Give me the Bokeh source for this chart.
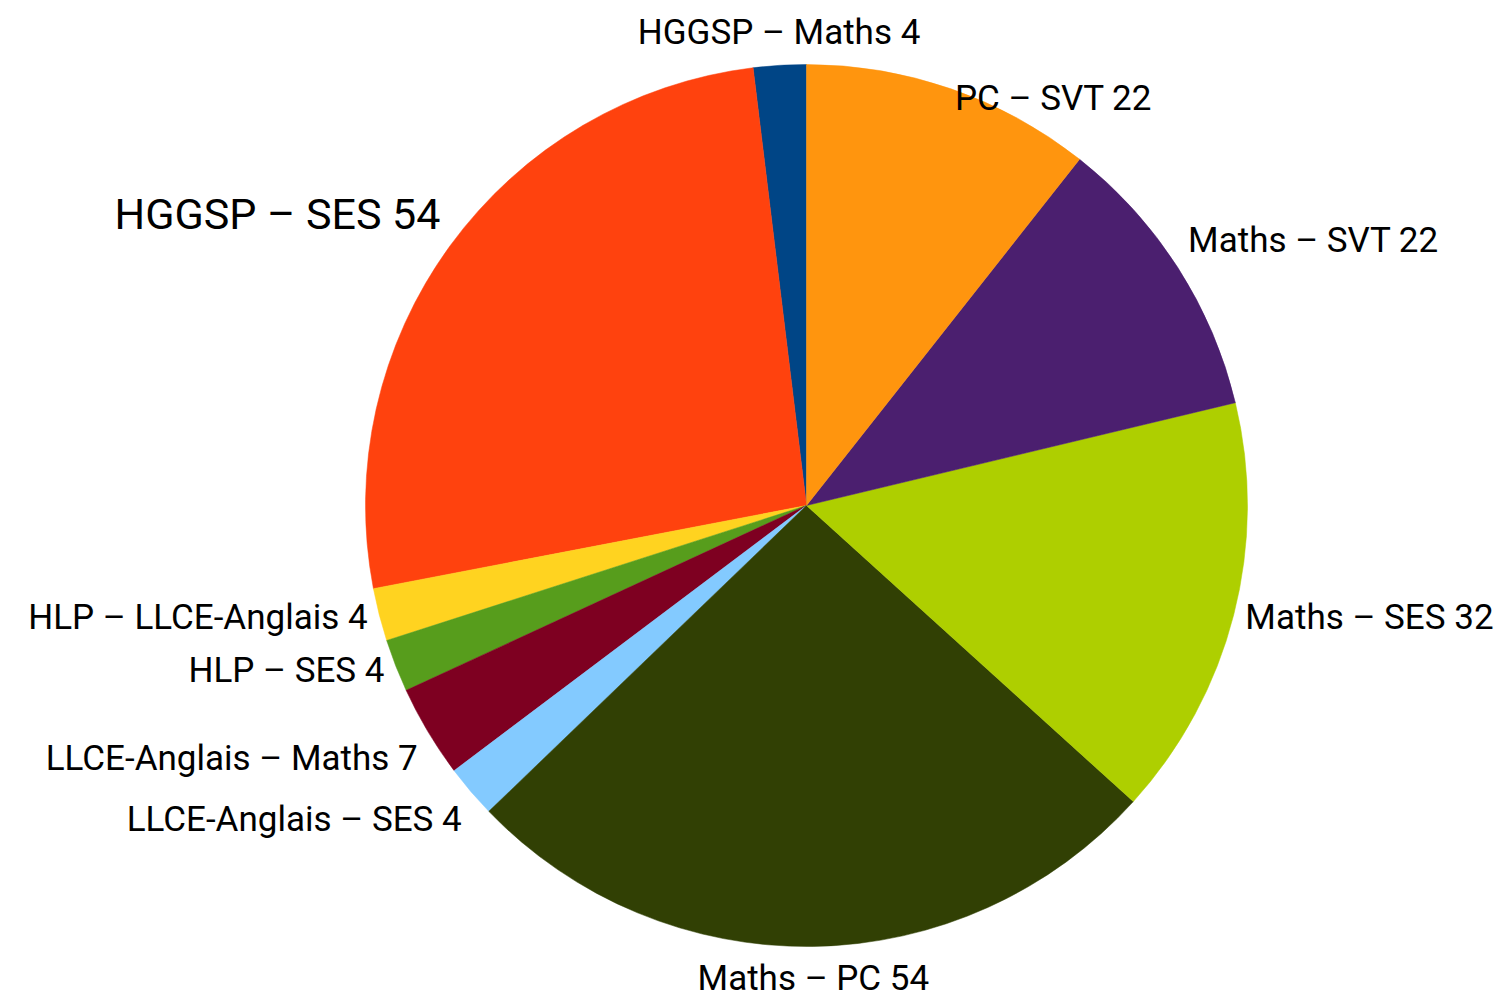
import math
from bokeh.plotting import figure
from bokeh.models import Range1d, ColumnDataSource
from bokeh.core.properties import value
from bokeh.embed import file_html
from bokeh.resources import INLINE

# ---- data (series order as in the source table) ----
categories = [
    "HGGSP – Maths",
    "HGGSP – SES",
    "HLP – LLCE-Anglais",
    "HLP – SES",
    "LLCE-Anglais – Maths",
    "LLCE-Anglais – SES",
    "Maths – PC",
    "Maths – SES",
    "Maths – SVT",
    "PC – SVT",
]
counts = [4, 54, 4, 4, 7, 4, 54, 32, 22, 22]

# ---- styles ----
palette = ["#004586", "#ff420e", "#ffd320", "#579d1c", "#7e0021",
           "#83caff", "#314004", "#aecf00", "#4b1f6f", "#ff950e"]
FONT = "Roboto"
BASE_FONT_PX = 35
font_px_override = {"HGGSP – SES": 43}
anchor_override = {"PC – SVT": ("left", "top")}

W, H = 1500, 1000
CX, CY = 806, 505          # pie centre in figure pixels (from top-left)
R = 441                    # pie radius in pixels
GAP = 12                   # label distance from rim

p = figure(width=W, height=H, output_backend="svg", toolbar_location=None,
           x_range=Range1d(-CX, W - CX), y_range=Range1d(CY - H, CY),
           min_border=0, outline_line_color=None, background_fill_color="white",
           border_fill_color="white")
p.axis.visible = False
p.grid.visible = False

total = float(sum(counts))
starts, ends = [], []
acc = 0.0
for c in counts:
    starts.append(math.pi / 2 + 2 * math.pi * acc / total)
    acc += c
    ends.append(math.pi / 2 + 2 * math.pi * acc / total)

src = ColumnDataSource(dict(x=[0] * len(counts), y=[0] * len(counts),
                            start=starts, end=ends, color=palette))
p.wedge(x="x", y="y", radius=R, start_angle="start", end_angle="end",
        direction="anticlock", fill_color="color", line_color="color",
        line_width=0.5, source=src)

for cat, cnt, a0, a1 in zip(categories, counts, starts, ends):
    mid = (a0 + a1) / 2
    ux, uy = math.cos(mid), math.sin(mid)
    px, py = (R + GAP) * ux, (R + GAP) * uy
    if ux > 0.383:
        align = "left"
    elif ux < -0.383:
        align = "right"
    else:
        align = "center"
    if uy > 0.383:
        base = "bottom"
    elif uy < -0.383:
        base = "top"
    else:
        base = "middle"
    if cat in anchor_override:
        align, base = anchor_override[cat]
    size = font_px_override.get(cat, BASE_FONT_PX)
    p.text(x=[px], y=[py], text=[f"{cat} {cnt}"], text_font=value(FONT),
           text_font_size=f"{size}px", text_color="black",
           text_align=align, text_baseline=base)

open("out.html", "w").write(file_html(p, INLINE))
